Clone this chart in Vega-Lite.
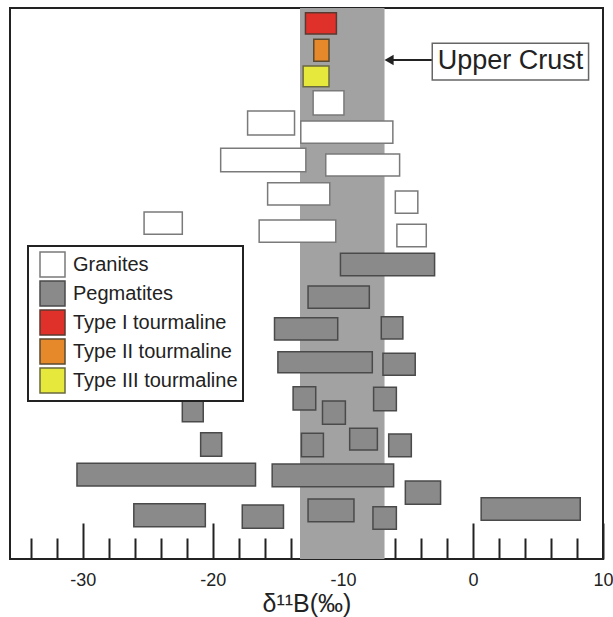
{
  "$schema": "https://vega.github.io/schema/vega-lite/v6.json",
  "width": 593,
  "height": 551,
  "autosize": {"type": "none"},
  "padding": {"left": 10, "top": 8, "right": 10, "bottom": 58},
  "background": "white",
  "config": {
    "view": {"stroke": "#222", "strokeWidth": 2},
    "font": "Liberation Sans"
  },
  "resolve": {"axis": {"x": "independent"}},
  "layer": [
    {
      "data": {"values": [{"lo": -13.3, "hi": -6.8}]},
      "mark": {"type": "rect", "color": "#a2a2a2"},
      "encoding": {
        "x": {
          "field": "lo", "type": "quantitative",
          "scale": {"domain": [-35.6, 10], "nice": false, "zero": false},
          "axis": {
            "orient": "bottom",
            "values": [-34, -32, -28, -26, -24, -22, -18, -16, -14, -12, -8, -6, -4, -2, 2, 4, 6, 8],
            "domain": false,
            "grid": false,
            "labels": false,
            "ticks": true,
            "tickSize": -21,
            "tickWidth": 2,
            "tickColor": "#222",
            "title": null
          }
        },
        "x2": {"field": "hi"}
      }
    },
    {
      "data": {"values": [
        {"type": "Type I tourmaline", "lo": -12.88, "hi": -10.50, "top": 54.63, "bottom": 52.5},
        {"type": "Type II tourmaline", "lo": -12.24, "hi": -11.07, "top": 51.97, "bottom": 49.77},
        {"type": "Type III tourmaline", "lo": -13.06, "hi": -11.07, "top": 49.3, "bottom": 47.23},
        {"type": "Granites", "lo": -12.29, "hi": -9.92, "top": 46.83, "bottom": 44.4},
        {"type": "Granites", "lo": -17.33, "hi": -13.72, "top": 44.8, "bottom": 42.4},
        {"type": "Granites", "lo": -13.24, "hi": -6.16, "top": 43.8, "bottom": 41.57},
        {"type": "Granites", "lo": -19.40, "hi": -12.85, "top": 41.07, "bottom": 38.73},
        {"type": "Granites", "lo": -11.32, "hi": -5.64, "top": 40.5, "bottom": 38.3},
        {"type": "Granites", "lo": -15.79, "hi": -11.01, "top": 37.63, "bottom": 35.4},
        {"type": "Granites", "lo": -5.97, "hi": -4.24, "top": 36.8, "bottom": 34.57},
        {"type": "Granites", "lo": -25.29, "hi": -22.35, "top": 34.7, "bottom": 32.47},
        {"type": "Granites", "lo": -16.44, "hi": -10.55, "top": 33.9, "bottom": 31.67},
        {"type": "Granites", "lo": -5.85, "hi": -3.59, "top": 33.47, "bottom": 31.23},
        {"type": "Pegmatites", "lo": -10.19, "hi": -2.95, "top": 30.57, "bottom": 28.33},
        {"type": "Pegmatites", "lo": -12.68, "hi": -7.97, "top": 27.3, "bottom": 25.07},
        {"type": "Pegmatites", "lo": -15.26, "hi": -10.40, "top": 24.13, "bottom": 21.9},
        {"type": "Pegmatites", "lo": -7.05, "hi": -5.39, "top": 24.23, "bottom": 22.0},
        {"type": "Pegmatites", "lo": -15.00, "hi": -7.74, "top": 20.73, "bottom": 18.63},
        {"type": "Pegmatites", "lo": -6.92, "hi": -4.44, "top": 20.57, "bottom": 18.37},
        {"type": "Pegmatites", "lo": -13.83, "hi": -12.09, "top": 17.23, "bottom": 14.9},
        {"type": "Pegmatites", "lo": -7.64, "hi": -5.89, "top": 17.17, "bottom": 14.83},
        {"type": "Pegmatites", "lo": -22.35, "hi": -20.74, "top": 15.9, "bottom": 13.73},
        {"type": "Pegmatites", "lo": -11.57, "hi": -9.81, "top": 15.8, "bottom": 13.47},
        {"type": "Pegmatites", "lo": -20.94, "hi": -19.32, "top": 12.63, "bottom": 10.27},
        {"type": "Pegmatites", "lo": -13.19, "hi": -11.50, "top": 12.57, "bottom": 10.23},
        {"type": "Pegmatites", "lo": -9.48, "hi": -7.35, "top": 13.07, "bottom": 10.9},
        {"type": "Pegmatites", "lo": -6.48, "hi": -4.74, "top": 12.5, "bottom": 10.23},
        {"type": "Pegmatites", "lo": -30.45, "hi": -16.72, "top": 9.57, "bottom": 7.3},
        {"type": "Pegmatites", "lo": -15.44, "hi": -6.10, "top": 9.5, "bottom": 7.23},
        {"type": "Pegmatites", "lo": -5.20, "hi": -2.49, "top": 7.8, "bottom": 5.47},
        {"type": "Pegmatites", "lo": -26.08, "hi": -20.58, "top": 5.53, "bottom": 3.23},
        {"type": "Pegmatites", "lo": -17.74, "hi": -14.57, "top": 5.4, "bottom": 3.07},
        {"type": "Pegmatites", "lo": -12.68, "hi": -9.15, "top": 6.0, "bottom": 3.73},
        {"type": "Pegmatites", "lo": 0.63, "hi": 8.25, "top": 6.13, "bottom": 3.87},
        {"type": "Pegmatites", "lo": -7.69, "hi": -5.89, "top": 5.23, "bottom": 2.97}
      ]},
      "mark": {"type": "rect", "strokeWidth": 1.5, "opacity": 1},
      "encoding": {
        "x": {
          "field": "lo", "type": "quantitative",
          "scale": {"domain": [-35.6, 10], "nice": false, "zero": false},
          "axis": {
            "orient": "bottom",
            "values": [-30, -20, -10, 0, 10],
            "domain": false,
            "grid": false,
            "ticks": true,
            "tickSize": -36,
            "tickWidth": 2,
            "tickColor": "#222",
            "labelExpr": "'' + datum.value",
            "labelOverlap": false,
            "labelBound": false,
            "labelFlush": false,
            "labelPadding": 62,
            "labelBaseline": "alphabetic",
            "labelFontSize": 18,
            "labelFont": "Liberation Sans",
            "labelColor": "#222",
            "title": "δ¹¹B(‰)",
            "titleFont": "Liberation Sans",
            "titleFontSize": 25,
            "titleFontWeight": "normal",
            "titleColor": "#222",
            "titleBaseline": "alphabetic",
            "titleY": 52
          }
        },
        "x2": {"field": "hi"},
        "y": {"field": "top", "type": "quantitative", "scale": {"domain": [0, 55.1], "nice": false, "zero": false}, "axis": null},
        "y2": {"field": "bottom"},
        "color": {
          "field": "type", "type": "nominal",
          "scale": {
            "domain": ["Granites", "Pegmatites", "Type I tourmaline", "Type II tourmaline", "Type III tourmaline"],
            "range": ["#ffffff", "#8a8a8a", "#e0302a", "#e5892a", "#e6e83c"]
          },
          "legend": {
            "title": null,
            "orient": "none",
            "legendX": 18,
            "legendY": 238,
            "symbolType": "square",
            "symbolSize": 625,
            "symbolStrokeColor": "#555",
            "symbolStrokeWidth": 1.5,
            "symbolOpacity": 1,
            "symbolOffset": 6,
            "labelFont": "Liberation Sans",
            "labelFontSize": 20,
            "labelColor": "#222",
            "labelOffset": 7,
            "labelLimit": 300,
            "rowPadding": -4,
            "padding": 5,
            "strokeColor": "#222",
            "fillColor": "white",
            "encode": {"legend": {"update": {"strokeWidth": {"value": 2}}}}
          }
        },
        "stroke": {
          "field": "type", "type": "nominal",
          "scale": {
            "domain": ["Granites", "Pegmatites", "Type I tourmaline", "Type II tourmaline", "Type III tourmaline"],
            "range": ["#7a7a7a", "#4a4a4a", "#5a3a30", "#5a4a30", "#6a6a40"]
          },
          "legend": null
        }
      }
    },
    {
      "data": {"values": [{"start": -6.3, "end": -3.13, "yy": 49.9}]},
      "mark": {"type": "rule", "color": "#222", "strokeWidth": 2},
      "encoding": {
        "x": {"field": "start", "type": "quantitative", "scale": {"domain": [-35.6, 10], "nice": false, "zero": false}, "axis": null},
        "x2": {"field": "end"},
        "y": {"field": "yy", "type": "quantitative", "scale": {"domain": [0, 55.1], "nice": false, "zero": false}, "axis": null}
      }
    },
    {
      "data": {"values": [{"px": -6.45, "py": 49.9}]},
      "mark": {"type": "point", "shape": "triangle-left", "filled": true, "color": "#222", "size": 110, "opacity": 1},
      "encoding": {
        "x": {"field": "px", "type": "quantitative", "scale": {"domain": [-35.6, 10], "nice": false, "zero": false}, "axis": null},
        "y": {"field": "py", "type": "quantitative", "scale": {"domain": [0, 55.1], "nice": false, "zero": false}, "axis": null}
      }
    },
    {
      "data": {"values": [{"lo": -3.13, "hi": 8.89, "top": 51.57, "bottom": 47.9}]},
      "mark": {"type": "rect", "fill": "white", "stroke": "#666", "strokeWidth": 1.5},
      "encoding": {
        "x": {"field": "lo", "type": "quantitative", "scale": {"domain": [-35.6, 10], "nice": false, "zero": false}, "axis": null},
        "x2": {"field": "hi"},
        "y": {"field": "top", "type": "quantitative", "scale": {"domain": [0, 55.1], "nice": false, "zero": false}, "axis": null},
        "y2": {"field": "bottom"}
      }
    },
    {
      "data": {"values": [{"label": "Upper Crust", "px": 2.88, "py": 49.0}]},
      "mark": {"type": "text", "font": "Liberation Sans", "fontSize": 27, "color": "#222", "align": "center", "baseline": "alphabetic"},
      "encoding": {
        "x": {"field": "px", "type": "quantitative", "scale": {"domain": [-35.6, 10], "nice": false, "zero": false}, "axis": null},
        "y": {"field": "py", "type": "quantitative", "scale": {"domain": [0, 55.1], "nice": false, "zero": false}, "axis": null},
        "text": {"field": "label"}
      }
    }
  ]
}
